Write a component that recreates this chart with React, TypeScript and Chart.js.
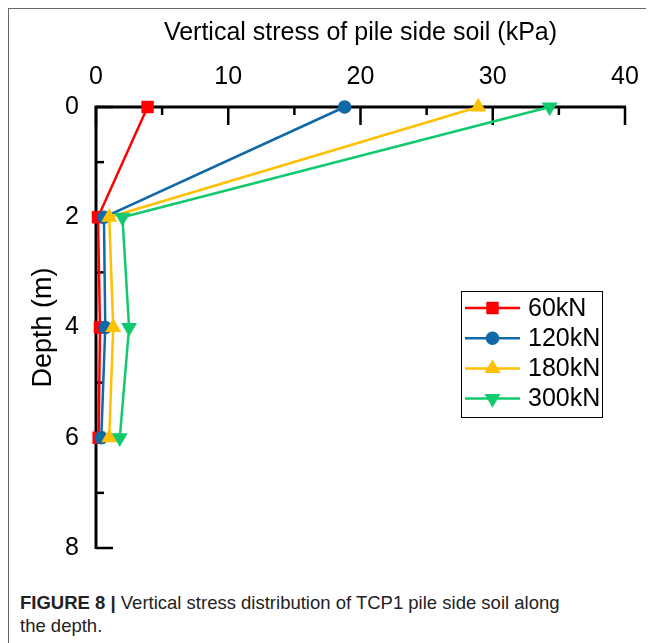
import React, { useEffect, useRef } from 'react';
import { Chart, registerables } from 'chart.js';

Chart.register(...registerables);

const depths = [0, 2, 4, 6];
const seriesLabels = ['60kN', '120kN', '180kN', '300kN'];
const stress60 = [3.9, 0.15, 0.3, 0.2];
const stress120 = [18.8, 0.6, 0.7, 0.4];
const stress180 = [28.9, 1.0, 1.3, 1.0];
const stress300 = [34.3, 2.0, 2.5, 1.8];
const xMajorTicks = [0, 10, 20, 30, 40];
const xMinorTicks = [5, 15, 25, 35];
const yMajorTicks = [0, 2, 4, 6, 8];
const yMinorTicks = [1, 3, 5, 7];

const xTitle = 'Vertical stress of pile side soil (kPa)';
const yTitle = 'Depth (m)';

const colors = ['#FF0000', '#0F69A6', '#FFC000', '#11C96E'];
const styles = ['rect', 'circle', 'triangle', 'triangle'];
const radii = [8.8, 6.8, 9.2, 9.2];
const rotations = [0, 0, 0, 180];

const FONT = "'Liberation Sans', Arial, Helvetica, sans-serif";

function drawMarker(ctx: CanvasRenderingContext2D, kind: number, x: number, y: number) {
  ctx.save();
  ctx.fillStyle = colors[kind];
  ctx.beginPath();
  const r = radii[kind];
  if (kind === 0) {
    const s = Math.SQRT1_2 * r;
    ctx.rect(x - s, y - s, 2 * s, 2 * s);
  } else if (kind === 1) {
    ctx.arc(x, y, r, 0, Math.PI * 2);
  } else {
    const dir = kind === 3 ? -1 : 1;
    const h = r * Math.sin(Math.PI / 3);
    ctx.moveTo(x, y - dir * r);
    ctx.lineTo(x - h, y + dir * r / 2);
    ctx.lineTo(x + h, y + dir * r / 2);
    ctx.closePath();
  }
  ctx.fill();
  ctx.restore();
}

const axesPlugin = {
  id: 'customAxes',
  beforeDatasetsDraw(chart: any) {
    const { ctx, scales } = chart;
    const xs = scales.x;
    const ys = scales.y;
    const x0 = xs.getPixelForValue(0);
    const x1 = xs.getPixelForValue(40);
    const y0 = ys.getPixelForValue(0);
    const y1 = ys.getPixelForValue(8);
    ctx.save();
    ctx.strokeStyle = '#000';
    ctx.lineCap = 'butt';
    ctx.lineWidth = 2.5;
    xMajorTicks.forEach((v) => {
      const px = xs.getPixelForValue(v);
      ctx.beginPath(); ctx.moveTo(px, y0); ctx.lineTo(px, y0 + 18); ctx.stroke();
    });
    xMinorTicks.forEach((v) => {
      const px = xs.getPixelForValue(v);
      ctx.beginPath(); ctx.moveTo(px, y0); ctx.lineTo(px, y0 + 8); ctx.stroke();
    });
    yMajorTicks.forEach((v) => {
      const py = ys.getPixelForValue(v);
      ctx.beginPath(); ctx.moveTo(x0, py); ctx.lineTo(x0 + 17, py); ctx.stroke();
    });
    yMinorTicks.forEach((v) => {
      const py = ys.getPixelForValue(v);
      ctx.beginPath(); ctx.moveTo(x0, py); ctx.lineTo(x0 + 8, py); ctx.stroke();
    });
    ctx.lineWidth = 3;
    ctx.beginPath();
    ctx.moveTo(x1 + 1, y0);
    ctx.lineTo(x0, y0);
    ctx.lineTo(x0, y1 + 1);
    ctx.stroke();
    ctx.restore();
  },
  afterDraw(chart: any) {
    const { ctx } = chart;
    ctx.save();
    ctx.strokeStyle = '#000';
    ctx.lineWidth = 1;
    ctx.strokeRect(452.5, 282.5, 141, 126);
    seriesLabels.forEach((lab, i) => {
      const y = 299 + i * 30.2;
      ctx.strokeStyle = colors[i];
      ctx.lineWidth = 2.5;
      ctx.beginPath(); ctx.moveTo(456, y); ctx.lineTo(511, y); ctx.stroke();
      drawMarker(ctx, i, 483.5, y);
      ctx.fillStyle = '#000';
      ctx.font = `25px ${FONT}`;
      ctx.textBaseline = 'middle';
      ctx.textAlign = 'left';
      ctx.fillText(lab, 519, y + 1);
    });
    ctx.restore();
  },
};

export default function App() {
  const ref = useRef<HTMLCanvasElement | null>(null);
  useEffect(() => {
    document.documentElement.style.overflow = 'hidden';
    const canvas = ref.current;
    if (!canvas) return;
    const series = [stress60, stress120, stress180, stress300];
    const chart = new Chart(canvas, {
      type: 'line',
      data: {
        datasets: series.map((vals, i) => ({
          label: seriesLabels[i],
          data: vals.map((v, j) => ({ x: v, y: depths[j] })),
          borderColor: colors[i],
          backgroundColor: colors[i],
          borderWidth: 2.5,
          pointStyle: styles[i] as any,
          pointRadius: radii[i],
          pointRotation: rotations[i],
          pointBorderWidth: 0,
          pointBackgroundColor: colors[i],
          tension: 0,
          fill: false,
          clip: false as any,
          order: seriesLabels.length - i,
        })),
      },
      options: {
        animation: false,
        responsive: false,
        maintainAspectRatio: false,
        events: [],
        layout: { autoPadding: false, padding: { top: 0, left: 0, right: 21, bottom: 31 } } as any,
        plugins: { legend: { display: false }, tooltip: { enabled: false } },
        scales: {
          x: {
            type: 'linear',
            position: 'top',
            min: 0,
            max: 40,
            afterFit: (s: any) => { s.height = 98; s.paddingLeft = 0; s.paddingRight = 0; },
            afterBuildTicks: (s: any) => { s.ticks = xMajorTicks.map((v) => ({ value: v })); },
            ticks: { font: { size: 25, family: FONT }, color: '#000', padding: 15, maxRotation: 0, autoSkip: false },
            grid: { display: false, drawTicks: false },
            border: { display: false },
            title: { display: true, text: xTitle, font: { size: 25, family: FONT }, color: '#000', padding: { top: 9, bottom: 0 } },
          },
          y: {
            type: 'linear',
            reverse: true,
            min: 0,
            max: 8,
            afterFit: (s: any) => { s.width = 87; s.paddingTop = 0; s.paddingBottom = 0; },
            afterBuildTicks: (s: any) => { s.ticks = yMajorTicks.map((v) => ({ value: v })); },
            ticks: { font: { size: 25, family: FONT }, color: '#000', padding: 17, autoSkip: false },
            grid: { display: false, drawTicks: false },
            border: { display: false },
            title: { display: true, text: yTitle, font: { size: 27, family: FONT }, color: '#000', padding: { top: 18, bottom: 0 } },
          },
        },
      },
      plugins: [axesPlugin],
    } as any);
    return () => chart.destroy();
  }, []);

  return (
    <div
      style={{
        position: 'relative',
        width: 646,
        height: 635,
        borderTop: '1px solid #666',
        borderLeft: '1px solid #666',
        boxSizing: 'border-box',
        fontFamily: FONT,
        background: '#fff',
      }}
    >
      <canvas ref={ref} width={637} height={570} style={{ position: 'absolute', left: 0, top: 0, width: 637, height: 570 }} />
      <div
        style={{
          position: 'absolute',
          left: 11,
          top: 582,
          width: 620,
          fontSize: 18.5,
          lineHeight: '23px',
          color: '#222',
        }}
      >
        <b>FIGURE 8 |</b> Vertical stress distribution of TCP1 pile side soil along
        <br />
        the depth.
      </div>
    </div>
  );
}
